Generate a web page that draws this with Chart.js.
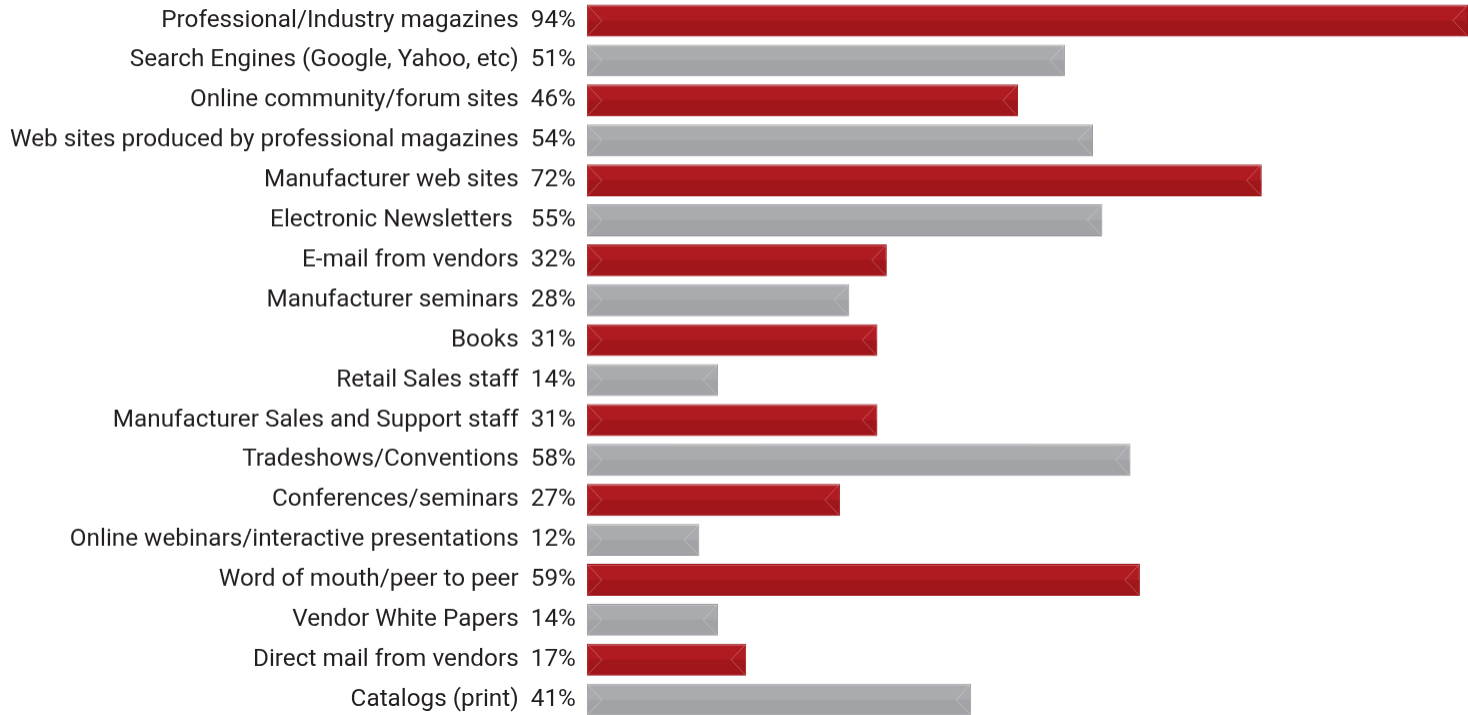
<!DOCTYPE html>
<html>
<head>
<meta charset="utf-8">
<script src="https://cdn.jsdelivr.net/npm/chart.js@4.4.1/dist/chart.umd.min.js"></script>
<style>
  html, body { margin: 0; padding: 0; background: #fff; overflow: hidden; }
  #wrap { position: relative; width: 1468px; height: 760px; }
</style>
</head>
<body>
<div id="wrap"><canvas id="sourcesChart"></canvas></div>
<script>
const categories = [
    'Professional/Industry magazines',
    'Search Engines (Google, Yahoo, etc)',
    'Online community/forum sites',
    'Web sites produced by professional magazines',
    'Manufacturer web sites',
    'Electronic Newsletters ',
    'E-mail from vendors',
    'Manufacturer seminars',
    'Books',
    'Retail Sales staff',
    'Manufacturer Sales and Support staff',
    'Tradeshows/Conventions',
    'Conferences/seminars',
    'Online webinars/interactive presentations',
    'Word of mouth/peer to peer',
    'Vendor White Papers',
    'Direct mail from vendors',
    'Catalogs (print)'
];
const percents = [94, 51, 46, 54, 72, 55, 32, 28, 31, 14, 31, 58, 27, 12, 59, 14, 17, 41];

const redTop = '#B01B22', redBottom = '#A1161B';
const greyTop = '#AAABAE', greyBottom = '#A2A3A6';

let labels = categories.map((c, i) => c + '  ' + percents[i] + '%');

// darker lower half + bevel lines on each bar
const bevel = {
    id: 'bevel',
    afterDatasetsDraw(chart) {
        let ctx = chart.ctx;
        chart.getDatasetMeta(0).data.forEach((bar, i) => {
            let left = bar.base, right = bar.x;
            let top = bar.y - bar.height / 2, bottom = bar.y + bar.height / 2;
            let mid = bar.y;
            ctx.save();
            ctx.fillStyle = i % 2 === 0 ? redBottom : greyBottom;
            ctx.fillRect(left + 1, mid, right - left - 2, bottom - mid - 1);
            ctx.strokeStyle = 'rgba(255,255,255,0.25)';
            ctx.lineWidth = 1;
            ctx.beginPath();
            ctx.moveTo(left + 1, top + 1.5);
            ctx.lineTo(right - 1, top + 1.5);
            ctx.moveTo(left + 1, bottom - 1);
            ctx.lineTo(left + 15, mid);
            ctx.lineTo(left + 1, top + 1);
            ctx.moveTo(right - 1, bottom - 1);
            ctx.lineTo(right - 15, mid);
            ctx.lineTo(right - 1, top + 1);
            ctx.stroke();
            ctx.restore();
        });
    }
};

let ctx = document.getElementById('sourcesChart').getContext('2d');
let sourcesChart = new Chart(ctx, {
    type: 'bar',
    data: {
        labels: labels,
        datasets: [{
            data: percents,
            backgroundColor: percents.map((p, i) => i % 2 === 0 ? redTop : greyTop),
            borderColor: percents.map((p, i) => i % 2 === 0 ? '#9A1419' : '#98999C'),
            borderWidth: 1,
            borderSkipped: false,
            categoryPercentage: 1,
            barPercentage: 0.8
        }]
    },
    options: {
        indexAxis: 'y',
        responsive: true,
        maintainAspectRatio: false,
        animation: false,
        layout: { padding: { left: 7, right: 0, top: 0, bottom: 0 } },
        plugins: {
            legend: { display: false },
            tooltip: { enabled: false }
        },
        scales: {
            x: {
                display: false,
                min: 0,
                max: 94
            },
            y: {
                grid: { display: false },
                border: { display: false },
                ticks: {
                    color: '#231F20',
                    padding: 3,
                    autoSkip: false,
                    font: { family: 'Roboto', size: 24.3 }
                }
            }
        }
    },
    plugins: [bevel]
});

// shift the canvas so the plot area runs from y=1 to y=719 (last bar is clipped by the window)
let wrap = document.getElementById('wrap');
let area = sourcesChart.chartArea;
let padTop = area.top, padBottom = sourcesChart.height - area.bottom;
wrap.style.height = (718 + padTop + padBottom) + 'px';
wrap.style.top = (1 - padTop) + 'px';
sourcesChart.resize();
</script>
</body>
</html>
